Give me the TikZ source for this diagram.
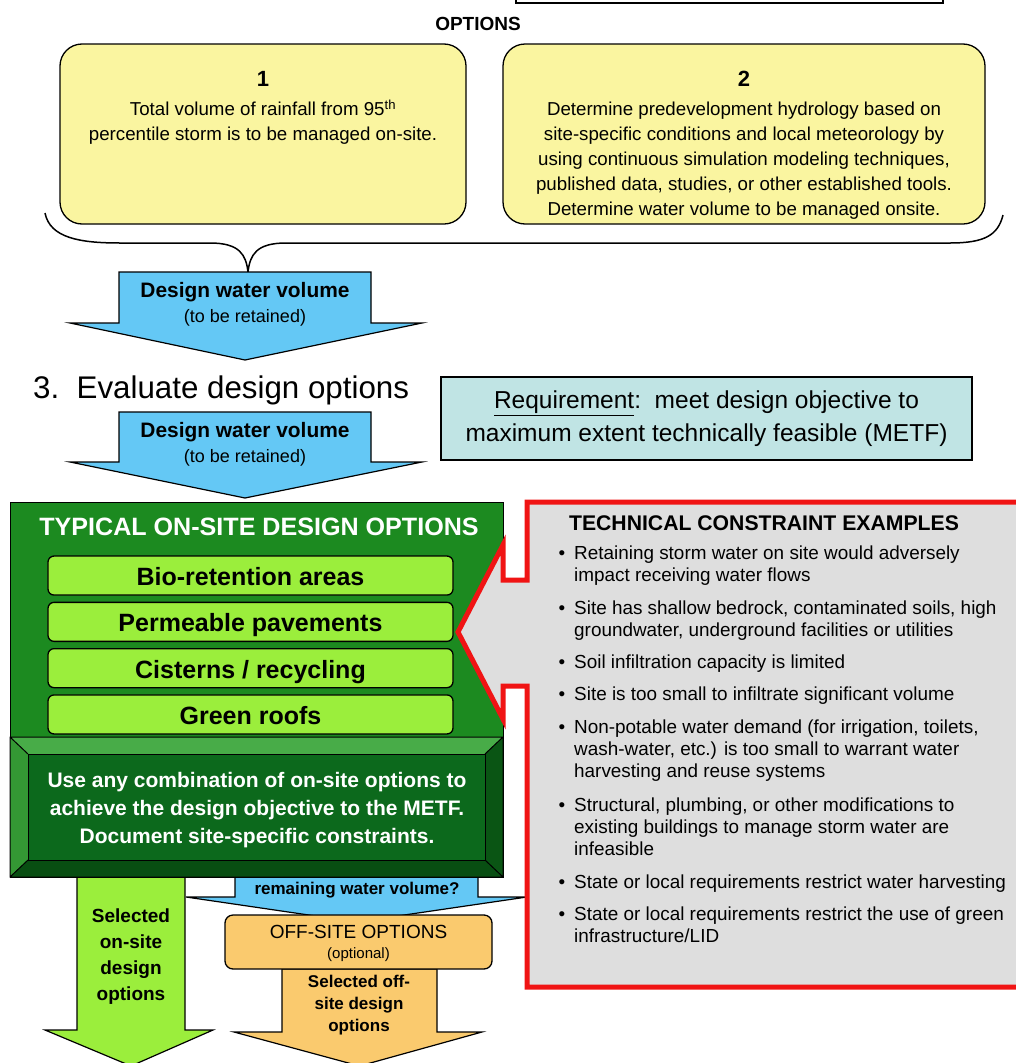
\documentclass[tikz,border=0pt]{standalone}
\usepackage{fontspec}
\setmainfont{Liberation Sans}
\usetikzlibrary{matrix,calc}

\definecolor{optyellow}{RGB}{250,245,160}
\definecolor{wblue}{RGB}{100,200,245}
\definecolor{reqteal}{RGB}{192,228,228}
\definecolor{dkgreen}{RGB}{28,138,32}
\definecolor{ltgreen}{RGB}{155,238,60}
\definecolor{bvinner}{RGB}{12,105,28}
\definecolor{bvtop}{RGB}{72,172,72}
\definecolor{bvleft}{RGB}{52,152,52}
\definecolor{bvright}{RGB}{10,85,20}
\definecolor{bvbottom}{RGB}{8,78,18}
\definecolor{offorange}{RGB}{250,202,110}
\definecolor{cgray}{RGB}{222,222,222}
\definecolor{cred}{RGB}{240,20,20}

\newcommand{\fsz}[2]{\fontsize{#1}{#2}\selectfont}
% fill, shaft left, shaft right, top, shaft end, wing left, wing right, tip
\newcommand{\blockarrow}[8]{%
  \filldraw[fill=#1, draw=black, line width=1.2pt] (#2,#4) -- (#3,#4) -- (#3,#5) -- (#7,#5)
    -- ({(#2+#3)/2},#8) -- (#6,#5) -- (#2,#5) -- cycle;}

\tikzset{
  optbox/.style={draw=black, line width=1.3pt, rounded corners=22pt, fill=optyellow, inner sep=0pt},
  opttext/.style={anchor=north, align=center, inner sep=0pt, font=\fsz{18.7}{25}},
  lgbox/.style={draw=black, line width=1.3pt, rounded corners=6pt, fill=ltgreen, minimum width=405pt,
    minimum height=39pt, text height=20pt, text depth=0pt, font=\bfseries\fsz{25}{28}, inner sep=0pt},
  citem/.style={anchor=north west, inner sep=0pt, align=left, font=\fsz{18.9}{22}},
  lbl/.style={inner sep=0pt, align=center},
}

\begin{document}
\begin{tikzpicture}[x=1pt, y=-1pt]
\useasboundingbox (0,0) rectangle (1016,1063);
\clip (0,0) rectangle (1016,1063);

\draw[line width=1.5pt] (516,-20) rectangle (943,3);
\node[lbl, font=\bfseries\fsz{19}{22}] (opts) at (478,24) {OPTIONS};

% the two options
\node[optbox, minimum width=406pt, minimum height=180pt] (o1) at (263,134) {};
\node[optbox, minimum width=482pt, minimum height=180pt] (o2) at (744,134) {};
\node[opttext] (o1t) at ($(o1.north)+(0,28)$) {{\bfseries\fsz{22}{25}1}\\[4pt]
  Total volume of rainfall from 95\textsuperscript{th}\\percentile storm is to be managed on-site.};
\node[opttext] (o2t) at ($(o2.north)+(0,28)$) {{\bfseries\fsz{22}{25}2}\\[4pt]
  Determine predevelopment hydrology based on\\site-specific conditions and local meteorology by\\
  using continuous simulation modeling techniques,\\published data, studies, or other established tools.\\
  Determine water volume to be managed onsite.};

\draw[line width=1.5pt] (45,213) .. controls (50,238) and (80,243) .. (120,243) -- (210,243)
  .. controls (240,243) and (246,255) .. (248,272) .. controls (250,255) and (256,243) .. (286,243)
  -- (950,243) .. controls (985,243) and (998,235) .. (1003,215);

\blockarrow{wblue}{119}{371}{272}{323}{70}{422}{360}
\node[lbl, font=\bfseries\fsz{20.9}{24}] (dv1) at (245,292) {Design water volume};
\node[lbl, font=\fsz{18}{22}] (rt1) at (245,318) {(to be retained)};

\node[anchor=west, inner sep=0pt, font=\fsz{31.3}{36}] (step3) at (33,390) {3.\ \ Evaluate design options};
\node[draw, line width=1.5pt, fill=reqteal, minimum width=531pt, minimum height=83pt, align=center,
  font=\fsz{24.5}{33}] (req) at (706.5,418.5)
  {\underline{Requirement}:\ \ meet design objective to\\maximum extent technically feasible (METF)};

\blockarrow{wblue}{119}{371}{412}{462}{70}{422}{498}
\node[lbl, font=\bfseries\fsz{20.9}{24}] (dv2) at (245,432) {Design water volume};
\node[lbl, font=\fsz{18}{22}] (rt2) at (245,458) {(to be retained)};

% outgoing arrows under the on-site box
\blockarrow{ltgreen}{77}{185}{877}{1030}{45}{213}{1066}
\blockarrow{wblue}{235}{478}{877}{897}{186}{527}{922}
\blockarrow{offorange}{282}{437}{969}{1032}{234}{482}{1066}

% on-site options
\draw[line width=1pt, fill=dkgreen] (10,502) rectangle (503,877);
\node[lbl, text=white, font=\bfseries\fsz{25.1}{28}] (typ) at (259,527) {TYPICAL ON-SITE DESIGN OPTIONS};
\matrix (opt) [matrix of nodes, row sep=6pt, nodes={lgbox}] at (250.5,645)
{
  Bio-retention areas \\
  Permeable pavements \\
  Cisterns / recycling \\
  Green roofs \\
};

\fill[bvtop] (10,737) -- (503,737) -- (485,754) -- (28,754) -- cycle;
\fill[bvleft] (10,737) -- (28,754) -- (28,860) -- (10,877) -- cycle;
\fill[bvright] (503,737) -- (503,877) -- (485,860) -- (485,754) -- cycle;
\fill[bvbottom] (10,877) -- (503,877) -- (485,860) -- (28,860) -- cycle;
\draw[line width=1pt, fill=bvinner] (28,754) rectangle (485,860);
\draw[line width=1pt] (10,737) rectangle (503,877) (10,737) -- (28,754) (503,737) -- (485,754)
  (10,877) -- (28,860) (503,877) -- (485,860);
\node[lbl, text=white, font=\bfseries\fsz{21}{28}] (use) at (257,810)
  {Use any combination of on-site options to\\achieve the design objective to the METF.\\Document site-specific constraints.};

\node[lbl, font=\bfseries\fsz{19}{26}] (selon) at (131,957) {Selected\\on-site\\design\\options};
\node[lbl, font=\bfseries\fsz{17}{20}] (rem) at (357,890) {remaining water volume?};
\node[draw=black, line width=1.3pt, rounded corners=8pt, fill=offorange, minimum width=267pt,
  minimum height=54pt, inner sep=0pt] (off) at (358.5,942) {};
\node[lbl, font=\fsz{19}{22}] (offt) at (358.5,932) {OFF-SITE OPTIONS};
\node[lbl, font=\fsz{15}{18}] (offo) at (358.5,955) {(optional)};
\node[lbl, font=\bfseries\fsz{17}{22}] (seloff) at (359,1005) {Selected off-\\site design\\options};

% constraints callout
\draw[cred, line width=5pt, fill=cgray, miter limit=20] (1030,502) -- (527,502) -- (527,580) -- (503,580)
  -- (503,545) -- (458,632) -- (503,719) -- (503,686) -- (527,686) -- (527,987) -- (1030,987);
\node[lbl, font=\bfseries\fsz{21.2}{24}] (tce) at (764,523) {TECHNICAL CONSTRAINT EXAMPLES};
\node[citem] (c1) at (574,546) {\llap{\textbullet\hspace{9pt}}Retaining storm water on site would adversely\\impact receiving water flows};
\node[citem] (c2) at (574,601) {\llap{\textbullet\hspace{9pt}}Site has shallow bedrock, contaminated soils, high\\groundwater, underground facilities or utilities};
\node[citem] (c3) at (574,655) {\llap{\textbullet\hspace{9pt}}Soil infiltration capacity is limited};
\node[citem] (c4) at (574,687) {\llap{\textbullet\hspace{9pt}}Site is too small to infiltrate significant volume};
\node[citem] (c5) at (574,720) {\llap{\textbullet\hspace{9pt}}Non-potable water demand (for irrigation, toilets,\\wash-water, etc.) is too small to warrant water\\harvesting and reuse systems};
\node[citem] (c6) at (574,798) {\llap{\textbullet\hspace{9pt}}Structural, plumbing, or other modifications to\\existing buildings to manage storm water are\\infeasible};
\node[citem] (c7) at (574,875) {\llap{\textbullet\hspace{9pt}}State or local requirements restrict water harvesting};
\node[citem] (c8) at (574,907) {\llap{\textbullet\hspace{9pt}}State or local requirements restrict the use of green\\infrastructure/LID};
\end{tikzpicture}
\end{document}
